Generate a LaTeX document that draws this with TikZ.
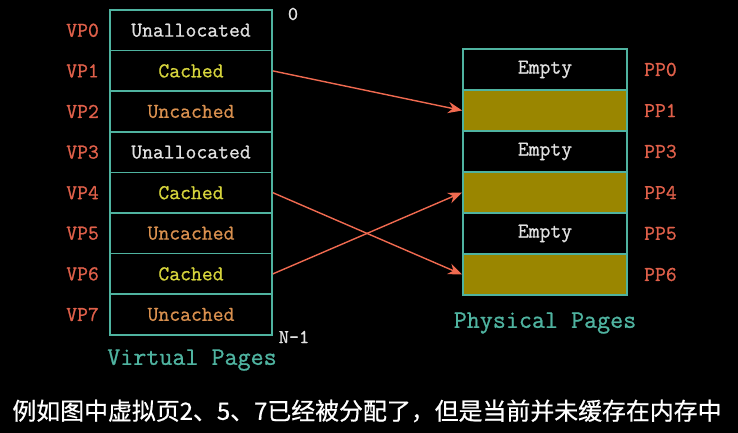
\documentclass[tikz,border=0pt]{standalone}
\usepackage{fontspec}
\newfontfamily\cjk{Noto Sans CJK SC}[FakeBold=0.6]
\newfontfamily\pagefont{Latin Modern Mono}[FakeBold=0.9]
\usetikzlibrary{arrows.meta,positioning}
\definecolor{tablec}{HTML}{4FB3A0}
\definecolor{pagered}{HTML}{E0604A}
\definecolor{cachedc}{HTML}{D6D43C}
\definecolor{uncachedc}{HTML}{D9904F}
\definecolor{unallocc}{HTML}{E2E2E2}
\definecolor{olivec}{HTML}{9A8600}
\definecolor{arrowc}{HTML}{F06A50}
\begin{document}
\begin{tikzpicture}[x=0.025cm,y=-0.025cm,>=Stealth,
  cell/.style={draw=tablec,line width=1.2pt,minimum width=4.05cm,minimum height=1.015cm,inner sep=0pt,font=\pagefont\fontsize{15}{15}\selectfont},
  pcell/.style={cell,minimum width=4.1cm,minimum height=1.025cm},
  pagelab/.style={text=pagered,inner sep=0pt,font=\pagefont\fontsize{15}{15}\selectfont},
  title/.style={text=tablec,font=\pagefont\fontsize{18}{18}\selectfont},
  maparrow/.style={->,draw=arrowc,line width=1pt,-{Stealth[length=10pt,width=8pt]}}]
\fill[black] (0,0) rectangle (738,433);
\useasboundingbox (0,0) rectangle (738,433);
% virtual pages
\foreach \i/\txt/\col in {0/Unallocated/unallocc,1/Cached/cachedc,2/Uncached/uncachedc,3/Unallocated/unallocc,4/Cached/cachedc,5/Uncached/uncachedc,6/Cached/cachedc,7/Uncached/uncachedc}{
  \node[cell,text=\col] (vp\i) at (191,{30.3+40.6*\i}) {\txt};
  \node[pagelab,left=0.25cm of vp\i] (vpl\i) {VP\i};
}
% physical pages
\foreach \j/\k/\txt/\fl in {0/0/Empty/black,1/1/{}/olivec,2/3/Empty/black,3/4/{}/olivec,4/5/Empty/black,5/6/{}/olivec}{
  \node[pcell,fill=\fl,text=unallocc] (pp\k) at (545,{69.5+41*\j}) {\txt};
  \node[pagelab,right=0.4cm of pp\k] (ppl\k) {PP\k};
}
\node[text=unallocc,font=\pagefont\fontsize{14}{14}\selectfont] (zero) at (293,14) {0};
\node[text=unallocc,font=\pagefont\fontsize{14}{14}\selectfont] (last) at (294,337) {N-1};
\node[title] (vtitle) at (192,360) {Virtual Pages};
\node[title] (ptitle) at (545,323) {Physical Pages};
\draw[maparrow] (vp1.east) -- (pp1.west);
\draw[maparrow] (vp4.east) -- (pp6.west);
\draw[maparrow] (vp6.east) -- (pp4.west);
\node[text=white,font=\cjk\fontsize{17}{17}\selectfont] (caption) at (367,411) {例如图中虚拟页2、5、7已经被分配了，但是当前并未缓存在内存中};
\end{tikzpicture}
\end{document}
